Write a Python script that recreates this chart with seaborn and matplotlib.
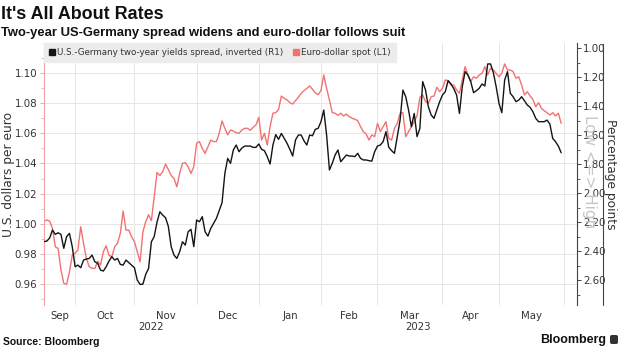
import numpy as np
import pandas as pd
import matplotlib
matplotlib.use("Agg")
import matplotlib.pyplot as plt
import matplotlib.transforms as mtransforms
from matplotlib.lines import Line2D
from matplotlib.patches import FancyBboxPatch
from matplotlib.ticker import FixedLocator, MultipleLocator, FuncFormatter, NullFormatter
import seaborn as sns

# ---------------- data (business days 2022-09-16 .. 2023-05-31) ----------------
first_day = "2022-09-16"
last_day = "2023-05-31"

eurusd = [
    # Sep
    1.0015, 1.0025, 1.0018, 0.9969, 0.9847, 0.9836, 0.9693, 0.9605, 0.9598, 0.9681, 0.9792,
    # Oct
    0.9804, 0.9826, 0.9980, 0.9870, 0.9770, 0.9715, 0.9704, 0.9704, 0.9752, 0.9726,
    0.9814, 0.9854, 0.9790, 0.9781, 0.9847, 0.9870, 0.9936, 1.0084, 0.9958, 0.9958, 0.9914,
    # Nov
    0.9881, 0.9814, 0.9748, 0.9947, 1.0013, 1.0060, 1.0020, 1.0180, 1.0340, 1.0320,
    1.0345, 1.0396, 1.0360, 1.0320, 1.0301, 1.0245, 1.0334, 1.0401, 1.0405, 1.0378, 1.0334, 1.0378,
    # Dec
    1.0534, 1.0545, 1.0500, 1.0467, 1.0510, 1.0555, 1.0545, 1.0545, 1.0600, 1.0682,
    1.0633, 1.0589, 1.0622, 1.0615, 1.0604, 1.0600, 1.0622, 1.0633, 1.0633, 1.0620, 1.0640, 1.0655,
    # Jan
    1.0706, 1.0555, 1.0600, 1.0522, 1.0644, 1.0733, 1.0737, 1.0759, 1.0847, 1.0832,
    1.0821, 1.0803, 1.0794, 1.0816, 1.0839, 1.0865, 1.0883, 1.0898, 1.0914, 1.0892, 1.0869, 1.0856,
    # Feb
    1.0883, 1.0987, 1.0898, 1.0821, 1.0737, 1.0733, 1.0719, 1.0733, 1.0715, 1.0727,
    1.0711, 1.0700, 1.0693, 1.0684, 1.0644, 1.0611, 1.0595, 1.0555, 1.0589, 1.0578,
    # Mar
    1.0666, 1.0611, 1.0644, 1.0677, 1.0567, 1.0555, 1.0633, 1.0666, 1.0733, 1.0737,
    1.0578, 1.0611, 1.0644, 1.0677, 1.0715, 1.0839, 1.0854, 1.0810, 1.0799, 1.0843, 1.0847, 1.0905, 1.0876,
    # Apr
    1.0898, 1.0954, 1.0949, 1.0920, 1.0920, 1.0887, 1.0865, 1.0954, 1.1042, 1.0987,
    1.0943, 1.0975, 1.0965, 1.0987, 1.0998, 1.1042, 1.0987, 1.1031, 1.1020, 1.0998,
    # May
    1.0975, 1.1000, 1.1060, 1.1020, 1.1020, 1.1009, 1.0965, 1.0975, 1.0920, 1.0854,
    1.0876, 1.0847, 1.0825, 1.0776, 1.0803, 1.0766, 1.0750, 1.0737, 1.0721, 1.0737, 1.0715, 1.0733, 1.0666,
]

spread = [
    # Sep
    2.335, 2.331, 2.310, 2.255, 2.285, 2.274, 2.285, 2.381, 2.301, 2.278, 2.370,
    # Oct
    2.508, 2.497, 2.515, 2.462, 2.455, 2.451, 2.428, 2.474, 2.485, 2.531,
    2.538, 2.508, 2.469, 2.439, 2.462, 2.451, 2.492, 2.497, 2.462, 2.480, 2.497,
    # Nov
    2.515, 2.600, 2.630, 2.628, 2.560, 2.520, 2.336, 2.300, 2.200, 2.129,
    2.152, 2.170, 2.230, 2.370, 2.428, 2.451, 2.405, 2.336, 2.359, 2.267, 2.250, 2.370,
    # Dec
    2.186, 2.198, 2.163, 2.267, 2.297, 2.244, 2.209, 2.175, 2.120, 2.067,
    1.864, 1.761, 1.795, 1.703, 1.669, 1.715, 1.690, 1.676, 1.676, 1.676, 1.685, 1.685,
    # Jan
    1.662, 1.699, 1.708, 1.749, 1.800, 1.669, 1.597, 1.630, 1.589, 1.623,
    1.657, 1.699, 1.745, 1.634, 1.600, 1.600, 1.640, 1.669, 1.600, 1.605, 1.561, 1.554,
    # Feb
    1.508, 1.428, 1.600, 1.841, 1.795, 1.738, 1.703, 1.784, 1.761, 1.738,
    1.745, 1.745, 1.749, 1.726, 1.761, 1.772, 1.772, 1.777, 1.780, 1.715,
    # Mar
    1.676, 1.669, 1.646, 1.577, 1.685, 1.708, 1.726, 1.611, 1.497, 1.290,
    1.336, 1.428, 1.543, 1.451, 1.611, 1.554, 1.232, 1.290, 1.405, 1.462, 1.485, 1.428, 1.370,
    # Apr
    1.324, 1.301, 1.225, 1.248, 1.280, 1.324, 1.451, 1.267, 1.163, 1.186,
    1.232, 1.308, 1.294, 1.278, 1.248, 1.262, 1.110, 1.110, 1.170, 1.267,
    # May
    1.382, 1.446, 1.221, 1.163, 1.313, 1.336, 1.370, 1.359, 1.336, 1.363,
    1.393, 1.409, 1.440, 1.485, 1.508, 1.508, 1.508, 1.497, 1.524, 1.623, 1.646, 1.676, 1.722,
]

month_labels = ["Sep", "Oct", "Nov", "Dec", "Jan", "Feb", "Mar", "Apr", "May"]
year_labels = ["2022", "2023"]
left_ticks = [0.96, 0.98, 1.00, 1.02, 1.04, 1.06, 1.08, 1.10]
right_ticks = [1.00, 1.20, 1.40, 1.60, 1.80, 2.00, 2.20, 2.40, 2.60]
legend_labels = ["U.S.-Germany two-year yields spread, inverted (R1)", "Euro-dollar spot (L1)"]

# ---------------- build frame (x = business-day axis, as on the original) --------
dates = pd.bdate_range(first_day, last_day)
n = min(len(dates), len(eurusd), len(spread))
dates = dates[:n]
origin = np.datetime64("2022-09-01")
bday = np.busday_count(origin, dates.values.astype("datetime64[D]"))
df = pd.DataFrame({"bday": bday, "eurusd": eurusd[:n], "spread": spread[:n]})

month_starts = pd.date_range("2022-10-01", "2023-06-01", freq="MS")
bounds = np.busday_count(origin, month_starts.values.astype("datetime64[D]"))
year_start = np.busday_count(origin, np.datetime64("2023-01-01"))

PINK = "#f27272"
BLACK = "#141414"
GRID = "#e6e6e6"
TXT = "#333333"

sns.set_theme(style="white")
plt.rcParams["font.family"] = ["DejaVu Sans"]

W, H = 620, 348
fig = plt.figure(figsize=(W / 100, H / 100), dpi=100)
L, R, T, B = 44, 577, 43, 305
ax = fig.add_axes([L / W, 1 - B / H, (R - L) / W, (B - T) / H])
ax2 = ax.twinx()

sns.lineplot(data=df, x="bday", y="eurusd", ax=ax, color=PINK, linewidth=1.0, legend=False)
sns.lineplot(data=df, x="bday", y="spread", ax=ax2, color=BLACK, linewidth=1.0, legend=False)

xmin, xmax = 11.0, 199.6
ax.set_xlim(xmin, xmax)
ax.set_ylim(0.9461, 1.1199)
ax2.set_ylim(2.772, 0.9655)

# x axis: gridlines at month boundaries, labels centred in each month
ax.xaxis.set_major_locator(FixedLocator(bounds))
ax.xaxis.set_major_formatter(NullFormatter())
edges = np.concatenate([[xmin], bounds])
centers = [(max(edges[i], xmin) + min(edges[i + 1], xmax)) / 2 for i in range(len(month_labels))]
ax.set_xticks(centers, minor=True)
ax.set_xticklabels(month_labels, minor=True)
ax.tick_params(axis="x", which="both", length=0, pad=4, labelsize=7.3, labelcolor=TXT)

trans = mtransforms.blended_transform_factory(ax.transData, ax.transAxes)
ax.text((xmin + year_start) / 2, -0.083, year_labels[0], transform=trans, ha="center", va="center",
        fontsize=7.3, color=TXT)
ax.text((year_start + xmax) / 2, -0.083, year_labels[1], transform=trans, ha="center", va="center",
        fontsize=7.3, color=TXT)

# left axis
ax.set_yticks(left_ticks)
ax.yaxis.set_major_formatter(FuncFormatter(lambda v, p: f"{v:.2f}"))
ax.yaxis.set_minor_locator(MultipleLocator(0.01))
ax.tick_params(axis="y", which="major", length=3, width=0.7, color="#f4a3a3", labelsize=7.4,
               labelcolor=TXT, pad=2)
ax.tick_params(axis="y", which="minor", length=2, width=0.6, color="#f4a3a3", left=True)
ax.set_ylabel("U.S. dollars per euro", fontsize=8.8, color=TXT)
ax.yaxis.set_label_coords((15 - L) / (R - L), 0.5)
ax.set_xlabel("")

# right axis
ax2.set_yticks(right_ticks)
ax2.yaxis.set_major_formatter(FuncFormatter(lambda v, p: f"{v:.2f}"))
ax2.yaxis.set_minor_locator(MultipleLocator(0.1))
ax2.tick_params(axis="y", which="major", length=3, width=0.7, color="#444444", labelsize=7.4,
                labelcolor=TXT, pad=1.5)
ax2.tick_params(axis="y", which="minor", length=2, width=0.6, color="#444444", right=True)
ax2.set_ylabel("Percentage points", fontsize=8.8, color=TXT, rotation=270, va="center")
ax2.yaxis.set_label_coords((611 - L) / (R - L), 0.5)

# grid & spines
ax.grid(True, axis="x", which="major", color=GRID, linewidth=0.7)
ax.grid(True, axis="y", which="major", color=GRID, linewidth=0.7)
ax.set_axisbelow(True)
ax2.grid(False)
for s in ["top", "right", "bottom"]:
    ax.spines[s].set_visible(False)
ax.spines["left"].set_color("#f4a3a3")
ax.spines["left"].set_linewidth(0.8)
for s in ["top", "left", "bottom"]:
    ax2.spines[s].set_visible(False)
ax2.spines["right"].set_color("#444444")
ax2.spines["right"].set_linewidth(0.8)

# legend
handles = [Line2D([], [], marker="s", linestyle="none", markersize=4.5, color=BLACK),
           Line2D([], [], marker="s", linestyle="none", markersize=4.5, color=PINK)]
leg = ax2.legend(handles, legend_labels, loc="upper left", bbox_to_anchor=(0, 1), borderaxespad=0,
                 ncol=2, fontsize=6.3, frameon=True, fancybox=False, handlelength=0.7,
                 handletextpad=0.25, columnspacing=1.1, borderpad=0.55, labelcolor=TXT)
leg.get_frame().set_facecolor("#ececec")
leg.get_frame().set_edgecolor("#ececec")
leg.get_frame().set_alpha(1)

# inverted-axis hint and bracket line
fig.text(590 / W, 1 - 172 / H, "Low <=> High", rotation=270, color="#c6c6c6", fontsize=11,
         ha="center", va="center")
fig.add_artist(Line2D([603 / W, 603 / W], [1 - 44 / H, 1 - 305 / H], transform=fig.transFigure,
                      color="#444444", linewidth=0.8))

# titles and footer
fig.text(0.002, 1 - 19 / H, "It's All About Rates", fontfamily=["Liberation Sans", "DejaVu Sans"],
         fontweight="bold", fontsize=12.9, va="baseline", color="#111111")
fig.text(0.002, 1 - 36 / H, "Two-year US-Germany spread widens and euro-dollar follows suit",
         fontfamily=["Liberation Sans", "DejaVu Sans"], fontweight="bold", fontsize=9.4,
         va="baseline", color="#111111")
fig.text(0.005, 1 - 345 / H, "Source: Bloomberg", fontfamily=["Liberation Sans", "DejaVu Sans"],
         fontweight="bold", fontsize=7.5, va="baseline", color="#111111")
fig.text(606 / W, 1 - 343 / H, "Bloomberg", fontfamily=["Liberation Sans", "DejaVu Sans"],
         fontweight="bold", fontsize=9, va="baseline", ha="right", color="#111111")
fig.add_artist(FancyBboxPatch((610 / W, 1 - 344 / H), 8 / W, 9 / H, boxstyle="round,pad=0,rounding_size=0.004",
                              transform=fig.transFigure, facecolor="#333333", edgecolor="none"))

fig.savefig("out.png", dpi=100, facecolor="white")
